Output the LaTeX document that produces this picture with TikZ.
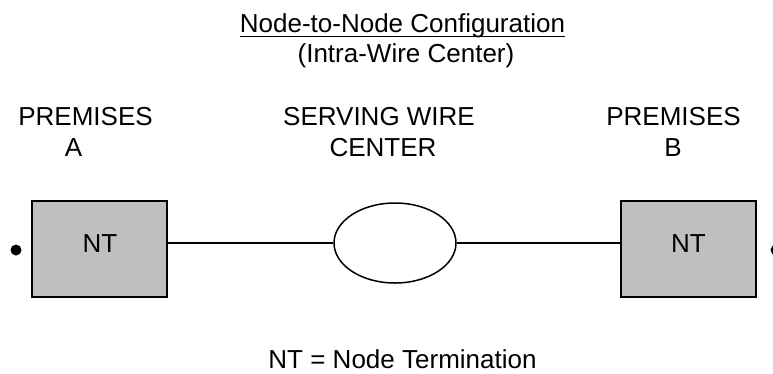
\documentclass[tikz,border=0pt]{standalone}
\usepackage{fontspec}
\setmainfont{Liberation Sans}
\usetikzlibrary{shapes.geometric,calc}
\begin{document}
\begin{tikzpicture}[x=1pt,y=1pt,
  txt/.style={inner sep=0pt,anchor=base,font=\fontsize{26}{31}\selectfont},
  ntbox/.style={draw=black,fill=black!25,line width=1.5pt,minimum width=135pt,minimum height=96pt,inner sep=0pt},
  wirecenter/.style={ellipse,draw=black,line width=1.5pt,minimum width=122pt,minimum height=80pt,inner sep=0pt},
  link/.style={line width=1.5pt},
  dotmark/.style={circle,fill=black,minimum size=11pt,inner sep=0pt}]
\clip (0,0) rectangle (773,-373);
\fill[white] (0,0) rectangle (773,-373);
% titles
\node[txt] (title) at (402.5,-32) {Node-to-Node Configuration};
\draw[line width=1.4pt] ([yshift=-4.5pt]title.base west) -- ([yshift=-4.5pt]title.base east);
\node[txt] (sub) at (406,-62.5) {(Intra-Wire Center)};
% headings
\node[txt] (pa1) at (85.5,-125.7) {PREMISES};
\node[txt] (pa2) at (73.5,-156.7) {A};
\node[txt] (sw1) at (379,-125.7) {SERVING WIRE};
\node[txt] (sw2) at (383,-156.7) {CENTER};
\node[txt] (pb1) at (673.5,-125.7) {PREMISES};
\node[txt] (pb2) at (673,-156.7) {B};
% boxes
\node[ntbox] (lbox) at (99.5,-249) {};
\node[txt] (lnt) at (100,-252.7) {NT};
\node[ntbox] (rbox) at (688.5,-249) {};
\node[txt] (rnt) at (688.5,-252.7) {NT};
\node[wirecenter] (ell) at (395,-243) {};
% connectors
\draw[link] (ell.west) -- (ell.west -| lbox.east);
\draw[link] (ell.east) -- (ell.east -| rbox.west);
% dots
\node[dotmark] (ldot) at (16,-250) {};
\node[dotmark] (rdot) at (776,-250) {};
% legend
\node[txt] (legend) at (402.5,-368.5) {NT = Node Termination};
\end{tikzpicture}
\end{document}
